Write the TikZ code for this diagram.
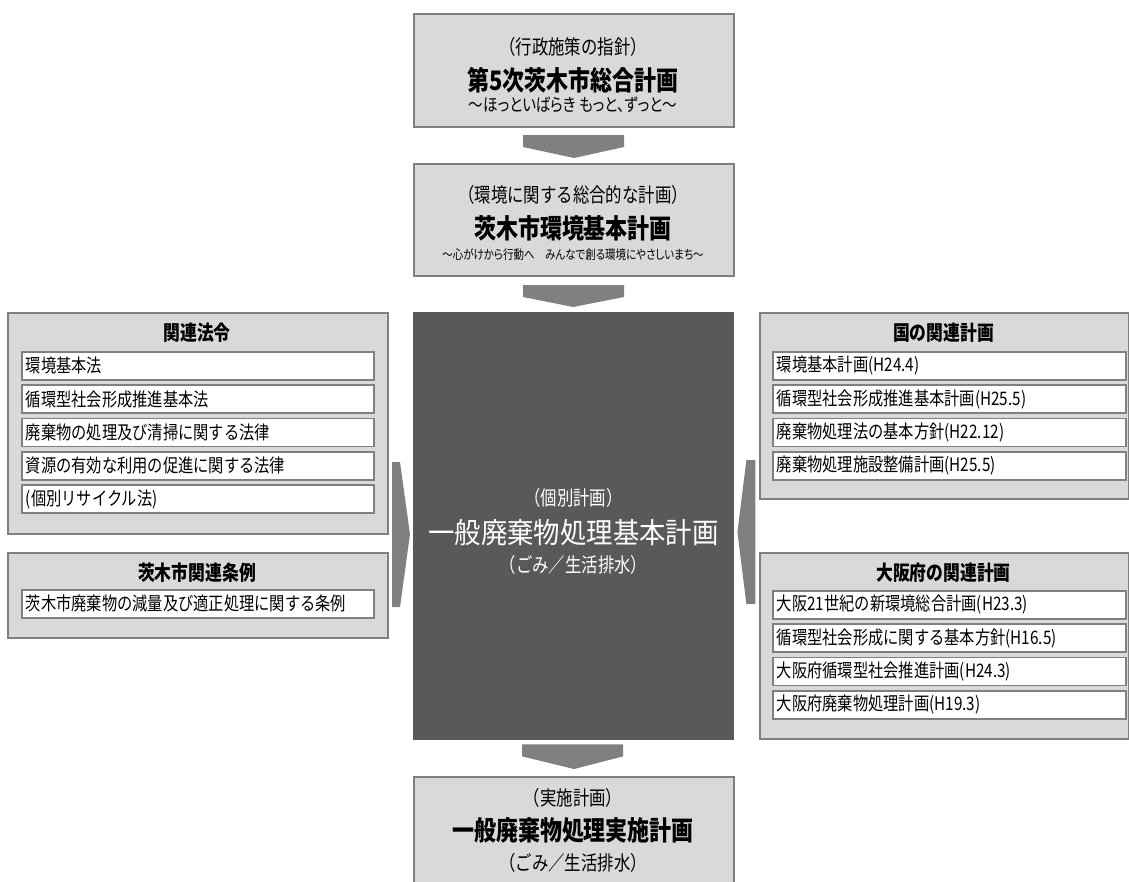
\documentclass[tikz,border=0pt]{standalone}
\usepackage{fontspec}
\setmainfont{Noto Sans CJK JP}[FakeStretch=0.82]
\newfontfamily\propfont[RawFeature=+palt, FakeStretch=0.82]{Noto Sans CJK JP}
\newfontfamily\largefont[FakeStretch=0.92]{Noto Sans CJK JP}
\usetikzlibrary{calc}
\definecolor{cadregris}{HTML}{D9D9D9}
\definecolor{bordgris}{HTML}{7F7F7F}
\definecolor{centregris}{HTML}{595959}
\definecolor{flechegris}{HTML}{808080}
\begin{document}
\begin{tikzpicture}[x=1pt, y=-1pt,
    cadre/.style={draw=bordgris, line width=2pt, fill=cadregris, anchor=north west, inner sep=0pt},
    ligne/.style={draw=bordgris, line width=1.8pt, fill=white, anchor=north west, minimum height=28pt,
      inner xsep=4pt, inner ysep=0pt, align=left, font=\fontsize{18.6}{20}\selectfont},
    titre/.style={inner sep=0pt, font=\fontsize{20.5}{22}\selectfont\bfseries},
    sous/.style={inner sep=0pt, font=\fontsize{20}{22}\selectfont},
    grand/.style={inner sep=0pt, font=\fontsize{26.8}{28}\selectfont\bfseries},
    fleche/.style={fill=flechegris}]
  \useasboundingbox (0,0) rectangle (1129,881);
  \clip (0,0) rectangle (1129,881);

  % Déclaration des cadres du milieu
  \node[cadre, minimum width=320pt, minimum height=113pt] (planA) at (413,13) {};
  \node[sous] (planAsous) at (573,47) {（行政施策の指針）};
  \node[grand] (planAtitre) at (573,80) {第5次茨木市総合計画};
  \node[inner sep=0pt, font=\propfont\fontsize{17.8}{19}\selectfont] (planAdevise) at (573,105) {～ほっといばらき もっと、ずっと～};

  \node[cadre, minimum width=320pt, minimum height=112pt] (planB) at (413,163) {};
  \node[sous] (planBsous) at (573,195) {（環境に関する総合的な計画）};
  \node[grand] (planBtitre) at (573,228) {茨木市環境基本計画};
  \node[inner sep=0pt, font=\propfont\fontsize{12.8}{14}\selectfont] (planBdevise) at (573,255) {～心がけから行動へ　みんなで創る環境にやさしいまち～};

  \node[anchor=north west, fill=centregris, minimum width=321pt, minimum height=428pt, inner sep=0pt] (centre) at (413,312) {};
  \node[sous, text=white] (centresous) at (573.5,498) {（個別計画）};
  \node[inner sep=0pt, text=white, font=\largefont\fontsize{28.7}{30}\selectfont] (centretitre) at (573.5,533) {一般廃棄物処理基本計画};
  \node[sous, text=white] (centrebas) at (573.5,565) {（ごみ／生活排水）};

  \node[cadre, minimum width=320pt, minimum height=140pt] (planD) at (413,776) {};
  \node[sous] (planDsous) at (573,798) {（実施計画）};
  \node[grand] (planDtitre) at (573,830) {一般廃棄物処理実施計画};
  \node[sous] (planDbas) at (573,863) {（ごみ／生活排水）};

  % Cadres de gauche
  \node[cadre, minimum width=380pt, minimum height=221pt] (lois) at (7,312) {};
  \node[titre] (loistitre) at (197,333) {関連法令};
  \node[ligne, text width=344pt] (loi1) at (21,351) {環境基本法};
  \node[ligne, text width=344pt] (loi2) at (21,384.3) {循環型社会形成推進基本法};
  \node[ligne, text width=344pt] (loi3) at (21,417.6) {廃棄物の処理及び清掃に関する法律};
  \node[ligne, text width=344pt] (loi4) at (21,450.9) {資源の有効な利用の促進に関する法律};
  \node[ligne, text width=344pt] (loi5) at (21,484.2) {(個別リサイクル法)};

  \node[cadre, minimum width=380pt, minimum height=85pt] (arretes) at (7,552) {};
  \node[titre] (arretestitre) at (197,573) {茨木市関連条例};
  \node[ligne, text width=344pt] (arrete1) at (21,589) {茨木市廃棄物の減量及び適正処理に関する条例};

  % Cadres de droite
  \node[cadre, minimum width=369pt, minimum height=186pt] (pays) at (759,312) {};
  \node[titre] (paystitre) at (943.5,333) {国の関連計画};
  \node[ligne, text width=345pt] (pays1) at (772,351) {環境基本計画(H24.4)};
  \node[ligne, text width=345pt] (pays2) at (772,384.3) {循環型社会形成推進基本計画(H25.5)};
  \node[ligne, text width=345pt] (pays3) at (772,417.6) {廃棄物処理法の基本方針(H22.12)};
  \node[ligne, text width=345pt] (pays4) at (772,450.9) {廃棄物処理施設整備計画(H25.5)};

  \node[cadre, minimum width=369pt, minimum height=186pt] (osaka) at (759,552) {};
  \node[titre] (osakatitre) at (943.5,573) {大阪府の関連計画};
  \node[ligne, text width=345pt] (osaka1) at (772,590) {大阪21世紀の新環境総合計画(H23.3)};
  \node[ligne, text width=345pt] (osaka2) at (772,623.3) {循環型社会形成に関する基本方針(H16.5)};
  \node[ligne, text width=345pt] (osaka3) at (772,656.6) {大阪府循環型社会推進計画(H24.3)};
  \node[ligne, text width=345pt] (osaka4) at (772,689.9) {大阪府廃棄物処理計画(H19.3)};

  % Flèches
  \fill[fleche] ($(planA.south)+(-51,7)$) -- ++(101,0) -- ++(0,12) -- ($(planB.north)+(0,-5)$) -- ($(planA.south)+(-51,19)$) -- cycle;
  \fill[fleche] ($(planB.south)+(-51,8)$) -- ++(101,0) -- ++(0,12) -- ($(centre.north)+(-0.5,-5)$) -- ($(planB.south)+(-51,20)$) -- cycle;
  \fill[fleche] ($(centre.south)+(-51.5,4)$) -- ++(101,0) -- ++(0,12) -- ($(planD.north)+(0,-7)$) -- ($(centre.south)+(-51.5,16)$) -- cycle;
  \fill[fleche] ($(centre.west)+(-21,-64)$) -- ++(8,0) -- ($(centre.west)+(-3,8)$) -- ($(centre.west)+(-13,81)$) -- ++(-8,0) -- cycle;
  \fill[fleche] ($(centre.east)+(21,-66)$) -- ++(-9,0) -- ($(centre.east)+(3,6)$) -- ($(centre.east)+(12,78)$) -- ++(9,0) -- cycle;
\end{tikzpicture}
\end{document}
